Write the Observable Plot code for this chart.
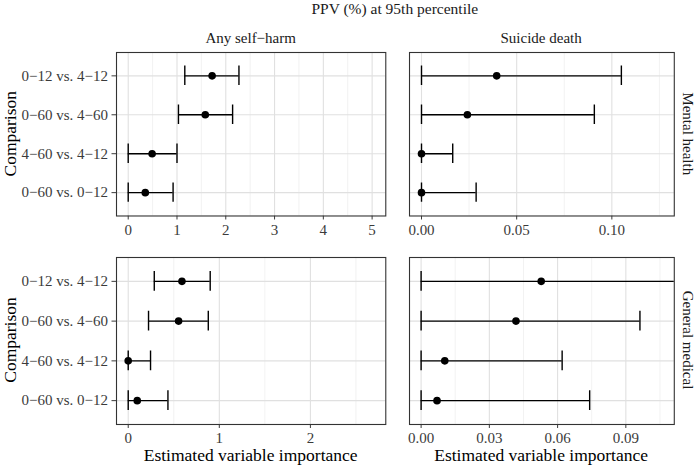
<!DOCTYPE html>
<html><head><meta charset="utf-8">
<script src="https://cdn.jsdelivr.net/npm/d3@7"></script>
<script src="https://cdn.jsdelivr.net/npm/@observablehq/plot@0.6"></script>
<style>
body{margin:0;background:#fff;}
#root{position:relative;width:694px;height:466px;overflow:hidden;font-family:"Liberation Serif","Times New Roman",serif;background:#fff;}
#root > .p{position:absolute;}
#root svg, #root svg text{font-family:"Liberation Serif","Times New Roman",serif !important;}
#root > svg.overlay{position:absolute;left:0;top:0;pointer-events:none;}
</style></head><body><div id="root"></div>
<script>
// ---- data ----
const chartTitle = "PPV (%) at 95th percentile";
const outcomes = ["Any self−harm", "Suicide death"];
const settings = ["Mental health", "General medical"];
const comparisons = ["0−12 vs. 4−12", "0−60 vs. 4−60", "4−60 vs. 4−12", "0−60 vs. 0−12"];
const xTitle = "Estimated variable importance";
const yTitle = "Comparison";

// Mental health / Any self-harm
const mhSelfHarmEst = [1.72, 1.58, 0.49, 0.35];
const mhSelfHarmLo  = [1.16, 1.03, 0.00, 0.00];
const mhSelfHarmHi  = [2.27, 2.14, 1.00, 0.92];
// Mental health / Suicide death
const mhSuicideEst = [0.0395, 0.0241, 0.0000, 0.0000];
const mhSuicideLo  = [0.0000, 0.0000, 0.0000, 0.0000];
const mhSuicideHi  = [0.1050, 0.0908, 0.0164, 0.0287];
// General medical / Any self-harm
const gmSelfHarmEst = [0.590, 0.553, 0.000, 0.099];
const gmSelfHarmLo  = [0.286, 0.223, 0.000, 0.000];
const gmSelfHarmHi  = [0.900, 0.879, 0.245, 0.436];
// General medical / Suicide death
const gmSuicideEst = [0.0528, 0.0417, 0.0104, 0.0070];
const gmSuicideLo  = [0.0000, 0.0000, 0.0000, 0.0000];
const gmSuicideHi  = [0.1200, 0.0962, 0.0620, 0.0741];

// axis ticks per panel
const mhSelfHarmTicks = [0, 1, 2, 3, 4, 5];
const mhSuicideTicks  = [0, 0.05, 0.10];
const gmSelfHarmTicks = [0, 1, 2];
const gmSuicideTicks  = [0, 0.03, 0.06, 0.09];
const mhSelfHarmMinor = [0.5, 1.5, 2.5, 3.5, 4.5];
const mhSuicideMinor  = [0.025, 0.075, 0.125];
const gmSelfHarmMinor = [0.5, 1.5, 2.5];
const gmSuicideMinor  = [0.015, 0.045, 0.075, 0.105];
const mhSelfHarmDomain = [-0.24, 5.28];
const mhSuicideDomain  = [-0.0063, 0.1328];
const gmSelfHarmDomain = [-0.1286, 2.8275];
const gmSuicideDomain  = [-0.0051, 0.1113];

// ---- layout ----
const root = document.getElementById("root");
const colX = [[116, 385.3], [408.7, 673.5]];
const rowY = [[52, 215.5], [256.5, 423.5]];
const MT = 4, MB = 30, MR = 4;

const panels = [
  {r: 0, c: 0, est: mhSelfHarmEst, lo: mhSelfHarmLo, hi: mhSelfHarmHi, ticks: mhSelfHarmTicks, minor: mhSelfHarmMinor, domain: mhSelfHarmDomain, fmt: d3.format("d")},
  {r: 0, c: 1, est: mhSuicideEst, lo: mhSuicideLo, hi: mhSuicideHi, ticks: mhSuicideTicks, minor: mhSuicideMinor, domain: mhSuicideDomain, fmt: d3.format(".2f")},
  {r: 1, c: 0, est: gmSelfHarmEst, lo: gmSelfHarmLo, hi: gmSelfHarmHi, ticks: gmSelfHarmTicks, minor: gmSelfHarmMinor, domain: gmSelfHarmDomain, fmt: d3.format("d")},
  {r: 1, c: 1, est: gmSuicideEst, lo: gmSuicideLo, hi: gmSuicideHi, ticks: gmSuicideTicks, minor: gmSuicideMinor, domain: gmSuicideDomain, fmt: d3.format(".2f")}
];

for (const p of panels) {
  const [x0, x1] = colX[p.c];
  const [y0, y1] = rowY[p.r];
  const ML = p.c === 0 ? x0 : 8;
  const rows = comparisons.map((cat, i) => ({cat, i, est: p.est[i], lo: p.lo[i], hi: p.hi[i]}));
  const idx = comparisons.map((_, i) => i);
  const plot = Plot.plot({
    width: ML + (x1 - x0) + MR,
    height: MT + (y1 - y0) + MB,
    marginLeft: ML, marginRight: MR, marginTop: MT, marginBottom: MB,
    style: {fontFamily: "'Liberation Serif', 'Times New Roman', serif", fontSize: "15px", color: "#3a3a3a", background: "transparent", overflow: "visible"},
    x: {domain: p.domain, ticks: p.ticks, tickFormat: p.fmt, tickSize: 4, tickPadding: 4, label: null},
    y: {domain: [comparisons.length - 0.4, -0.6], ticks: idx, tickFormat: i => comparisons[i], tickSize: 4.5, tickPadding: 4, label: null, axis: p.c === 0 ? "left" : null},
    marks: [
      Plot.ruleX(p.minor, {stroke: "#ededed", strokeWidth: 0.7}),
      Plot.ruleX(p.ticks, {stroke: "#e0e0e0", strokeWidth: 1.1}),
      Plot.ruleY(idx, {stroke: "#e0e0e0", strokeWidth: 1.1}),
      Plot.ruleY(rows, {y: "i", x1: "lo", x2: "hi", stroke: "black", strokeWidth: 1.4, clip: true}),
      Plot.ruleX(rows, {x: "lo", y1: d => d.i - 0.25, y2: d => d.i + 0.25, stroke: "black", strokeWidth: 1.4, clip: true}),
      Plot.ruleX(rows, {x: "hi", y1: d => d.i - 0.25, y2: d => d.i + 0.25, stroke: "black", strokeWidth: 1.4, clip: true}),
      Plot.dot(rows, {x: "est", y: "i", r: 3.8, fill: "black", stroke: "none", clip: true}),
      Plot.frame({stroke: "#333", strokeWidth: 1.1})
    ]
  });
  plot.classList.add("p");
  plot.style.left = (x0 - ML) + "px";
  plot.style.top = (y0 - MT) + "px";
  root.appendChild(plot);
}

// ---- text overlay ----
const ns = "http://www.w3.org/2000/svg";
const ov = document.createElementNS(ns, "svg");
ov.setAttribute("class", "overlay");
ov.setAttribute("width", 694);
ov.setAttribute("height", 466);
root.appendChild(ov);
function addText(str, x, y, size, fill, rot) {
  const t = document.createElementNS(ns, "text");
  t.textContent = str;
  t.setAttribute("text-anchor", "middle");
  t.setAttribute("font-size", size);
  t.setAttribute("fill", fill);
  t.setAttribute("transform", `translate(${x},${y})` + (rot ? ` rotate(${rot})` : ""));
  ov.appendChild(t);
}
const cx = colX.map(([a, b]) => (a + b) / 2);
const cy = rowY.map(([a, b]) => (a + b) / 2);
addText(chartTitle, (colX[0][0] + colX[1][1]) / 2, 14, 15.5, "#1a1a1a");
outcomes.forEach((o, c) => addText(o, cx[c], 42.5, 15, "#1a1a1a"));
settings.forEach((s, r) => addText(s, 682.5, cy[r], 15, "#1a1a1a", 90));
settings.forEach((s, r) => addText(yTitle, 15.5, cy[r], 17.5, "#000", -90));
outcomes.forEach((o, c) => addText(xTitle, cx[c], 461, 17.5, "#000"));
</script></body></html>
